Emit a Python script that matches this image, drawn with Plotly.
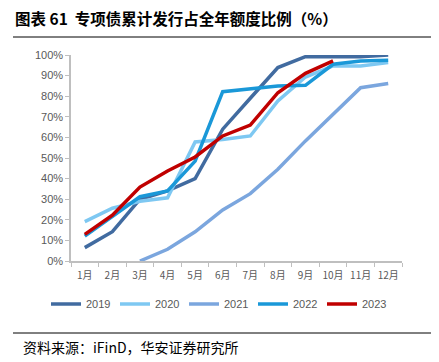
import plotly.graph_objects as go

months = ["1月", "2月", "3月", "4月", "5月", "6月", "7月", "8月", "9月", "10月", "11月", "12月"]
y2019 = [6.5, 14.2, 30.0, 34.0, 40.0, 64.0, 79.0, 93.9, 99.2, 99.2, 99.2, 100.0]
y2020 = [19.1, 25.6, 29.0, 30.7, 57.8, 59.0, 60.7, 77.7, 89.3, 94.7, 94.7, 96.3]
y2021 = [None, None, 0.0, 5.7, 14.2, 24.8, 32.7, 44.5, 58.3, 71.2, 84.1, 86.2]
y2022 = [12.1, 21.8, 31.2, 34.0, 48.5, 82.2, 83.8, 85.0, 85.3, 95.5, 97.1, 97.4]
y2023 = [12.9, 22.2, 35.9, 43.7, 50.5, 60.7, 66.0, 81.7, 91.1, 97.1]
series_names = ["2019", "2020", "2021", "2022", "2023"]
colors = ["#416BA0", "#7EC8F2", "#7BA6DE", "#1A98D8", "#C00000"]
ytick_vals = [0, 10, 20, 30, 40, 50, 60, 70, 80, 90, 100]
ytick_text = [f"{v}%" for v in ytick_vals]

fig = go.Figure()
for name, ys, c in zip(series_names, [y2019, y2020, y2021, y2022, y2023], colors):
    fig.add_trace(go.Scatter(
        x=months[:len(ys)], y=ys, name=name, mode="lines",
        line=dict(color=c, width=3.5), connectgaps=False,
    ))

def px(X):
    return (X - 71) / 331

def py(Y):
    return 1 + (55 - Y) / 206

# page is offset by the browser's 8px body margin
W, H = 431, 354
font_cjk = "Noto Sans CJK SC"
fig.update_layout(
    width=W, height=H,
    margin=dict(l=63, r=37, t=47, b=101, autoexpand=False),
    paper_bgcolor="white", plot_bgcolor="white",
    font=dict(family="Liberation Sans, Arial, " + font_cjk, size=10, color="#595959"),
    showlegend=True,
    legend=dict(orientation="h", x=px(46), xanchor="left",
                y=py(304), yanchor="middle",
                font=dict(size=11, color="#595959"), entrywidth=24, entrywidthmode="pixels",
                tracegroupgap=0, traceorder="normal", bgcolor="rgba(0,0,0,0)"),
    xaxis=dict(type="category", range=[-0.5, 11.5], showgrid=False, showline=True,
               linecolor="#BFBFBF", linewidth=1.5, ticks="outside", tickson="boundaries",
               ticklen=4, tickcolor="#BFBFBF", tickangle=0, automargin=False,
               ticklabelstandoff=4,
               tickfont=dict(family=font_cjk, size=10, color="#595959")),
    yaxis=dict(range=[0, 100], tickvals=ytick_vals, ticktext=ytick_text, showgrid=False,
               showline=True, linecolor="#BFBFBF", linewidth=1.5, ticks="outside",
               ticklen=4, tickcolor="#BFBFBF", zeroline=False, automargin=False,
               tickfont=dict(size=11, color="#595959")),
)

# header
fig.add_shape(type="rect", xref="paper", yref="paper",
              x0=px(37), x1=px(58), y0=py(3), y1=py(-2),
              fillcolor="#F2B8BE", line_width=0, layer="above")
fig.add_annotation(text="HUAAN RESEARCH", xref="paper", yref="paper",
                   x=px(72), y=py(0), xanchor="left", yanchor="middle",
                   showarrow=False, font=dict(family="Liberation Serif", size=8, color="#7F6A5A"))
fig.add_annotation(text="<b>图表 61  专项债累计发行占全年额度比例（%）</b>", xref="paper", yref="paper",
                   x=px(13), y=py(18), xanchor="left", yanchor="middle",
                   showarrow=False, font=dict(family=font_cjk, size=15.5, color="#000000"))
fig.add_shape(type="line", xref="paper", yref="paper",
              x0=px(13), x1=px(445), y0=py(37), y1=py(37),
              line=dict(color="#000000", width=1))
fig.add_shape(type="line", xref="paper", yref="paper",
              x0=px(13), x1=px(445), y0=py(333), y1=py(333),
              line=dict(color="#000000", width=1))
fig.add_annotation(text="资料来源：iFinD，华安证券研究所", xref="paper", yref="paper",
                   x=px(21), y=py(347), xanchor="left", yanchor="middle",
                   showarrow=False, font=dict(family=font_cjk, size=14, color="#000000"))

fig.write_html("out.html")
